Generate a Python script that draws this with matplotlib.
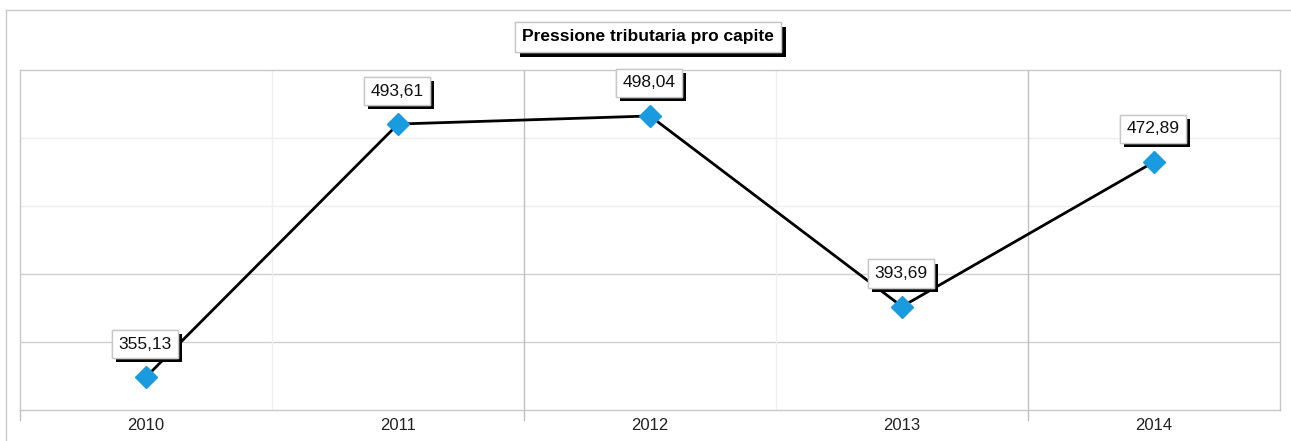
import matplotlib
matplotlib.use("Agg")
import matplotlib.pyplot as plt
import matplotlib.patheffects as pe
from matplotlib.lines import Line2D

years = ["2010", "2011", "2012", "2013", "2014"]
values = [355.13, 493.61, 498.04, 393.69, 472.89]
labels = ["355,13", "493,61", "498,04", "393,69", "472,89"]
title = "Pressione tributaria pro capite"

plt.rcParams['font.family'] = ['Liberation Sans', 'DejaVu Sans']

W, H = 1291, 441
fig = plt.figure(figsize=(W / 100, H / 100), dpi=100)
fig.patch.set_facecolor('white')

# outer border
fig.add_artist(Line2D([6 / W, 6 / W], [0, 1 - 10 / H], transform=fig.transFigure, color='#c8c8c8', lw=1))
fig.add_artist(Line2D([6 / W, 1], [1 - 10 / H, 1 - 10 / H], transform=fig.transFigure, color='#c8c8c8', lw=1))

left, right, top, bottom = 20, 1280, 70, 410
ax = fig.add_axes([left / W, 1 - bottom / H, (right - left) / W, (bottom - top) / H])

x = list(range(len(years)))
ax.set_xlim(-0.5, len(years) - 0.5)
ymin, ymax = 337.07, 523.2
ax.set_ylim(ymin, ymax)

# horizontal gridlines
step = (ymax - ymin) / 5
for i in range(1, 5):
    yv = ymin + i * step
    col = '#d0d0d0' if i <= 2 else '#eeeeee'
    ax.axhline(yv, color=col, lw=1, zorder=0)
# vertical gridlines at category boundaries
for i, b in enumerate([0.5, 1.5, 2.5, 3.5]):
    col = '#c0c0c0' if i in (1, 3) else '#f0f0f0'
    ax.axvline(b, color=col, lw=1, zorder=0)

for s in ['left', 'right', 'top', 'bottom']:
    ax.spines[s].set_color('#c8c8c8')
    ax.spines[s].set_linewidth(1)

ax.set_yticks([])
ax.set_xticks(x)
ax.set_xticklabels(years, fontsize=12, color='#222222')
ax.tick_params(axis='x', length=0, pad=6)
# tick marks at boundaries 1.5 and 3.5 and left edge
for b in [-0.5, 1.5, 3.5]:
    ax.plot([b, b], [0, -0.03], transform=ax.get_xaxis_transform(), color='#c0c0c0', lw=1, clip_on=False)

ax.plot(x, values, color='black', lw=2, zorder=2)
ax.plot(x, values, linestyle='none', marker='D', markersize=11, color='#1a9be0', markeredgecolor='#1a9be0', zorder=3)

for xi, v, lab in zip(x, values, labels):
    t = ax.annotate(lab, (xi, v), xytext=(-1, 33), textcoords='offset pixels',
                    ha='center', va='center', fontsize=12.5, color='#111111', zorder=5,
                    bbox=dict(boxstyle='square,pad=0.38', fc='white', ec='#c8c8c8', lw=1))
    t.get_bbox_patch().set_path_effects([pe.withSimplePatchShadow(offset=(3, -3), shadow_rgbFace='black', alpha=1), pe.Normal()])

tt = fig.text(648 / W, 1 - 37 / H, title, ha='center', va='center', fontsize=12.5, fontweight='bold',
              color='black', bbox=dict(boxstyle='square,pad=0.42', fc='white', ec='#c8c8c8', lw=1))
tt.get_bbox_patch().set_path_effects([pe.withSimplePatchShadow(offset=(3.5, -3.5), shadow_rgbFace='black', alpha=1), pe.Normal()])

fig.savefig('out.png', dpi=100, facecolor='white')
